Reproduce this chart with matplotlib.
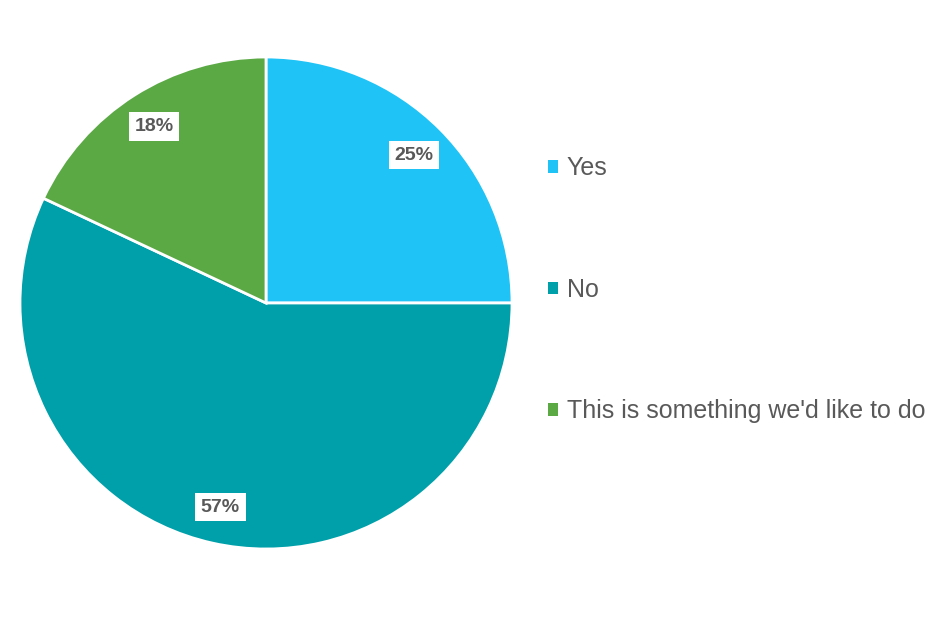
import matplotlib.pyplot as plt

# survey answers
labels = ["Yes", "No", "This is something we'd like to do"]
shares = [25, 57, 18]
colors = ["#1FC3F5", "#00A0AA", "#5BA945"]

plt.rcParams['font.family'] = ['Liberation Sans', 'DejaVu Sans']

fig = plt.figure(figsize=(9.5, 6.33), dpi=100)
ax = fig.add_axes([20 / 950, 84 / 633, 492 / 950, 492 / 633])

wedges, texts, pcts = ax.pie(
    shares, colors=colors, startangle=90, counterclock=False,
    autopct='%d%%', pctdistance=0.85,
    wedgeprops=dict(edgecolor='white', linewidth=2),
)
for t in pcts:
    t.set_fontsize(14)
    t.set_fontweight('bold')
    t.set_color('#595959')
    t.set_bbox(dict(facecolor='white', edgecolor='none', boxstyle='square,pad=0.3'))
ax.set_xlim(-1, 1)
ax.set_ylim(-1, 1)
ax.set_aspect('equal')

leg = fig.legend(wedges, labels, loc='center left',
                 bbox_to_anchor=(548 / 950, 1 - 290 / 633),
                 frameon=False, fontsize=18, labelspacing=3.9,
                 handlelength=0.4, handleheight=0.4, handletextpad=0.35,
                 borderpad=0, borderaxespad=0)
for t in leg.get_texts():
    t.set_color('#595959')
for h in leg.legend_handles:
    h.set_edgecolor('none')

fig.savefig('out.png', dpi=100)
